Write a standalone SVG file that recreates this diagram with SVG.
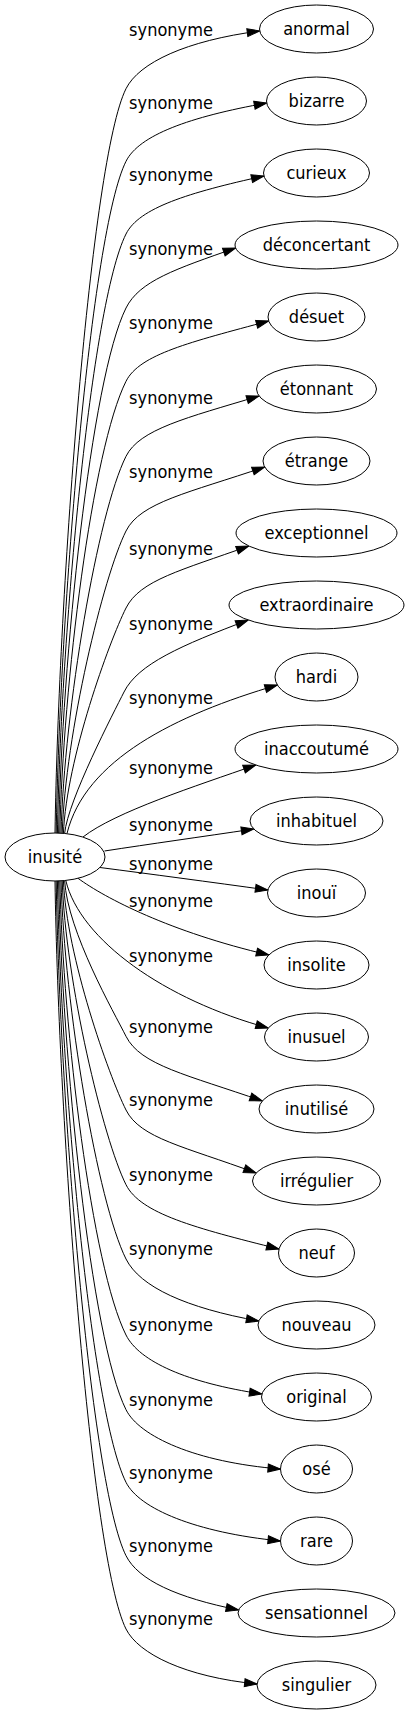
<svg xmlns="http://www.w3.org/2000/svg" width="409" height="1715" viewBox="0 0 409 1715">
<defs>
<style>
text{font-family:"DejaVu Sans Condensed","DejaVu Sans",sans-serif;font-stretch:condensed;font-size:18px;fill:#000;text-anchor:middle}
.node ellipse{fill:#fff;stroke:#000;stroke-width:1}
.edge path{fill:none;stroke:#000;stroke-width:1;marker-end:url(#arr)}
</style>
<marker id="arr" markerUnits="userSpaceOnUse" markerWidth="14" markerHeight="10" refX="12.5" refY="4" orient="auto" overflow="visible"><path d="M0,0 L12.5,4 L0,8 Z" fill="#000" stroke="#000" stroke-width="1"/></marker>
</defs>
<rect width="409" height="1715" fill="#fff"/>
<g id="edges">
<g class="edge" id="e0"><path d="M55,833.5 C58.6,587.7 91,158.7 126,88.7 C139,62.7 186.2,40.6 259.7,31"/><text x="171" y="36">synonyme</text></g>
<g class="edge" id="e1"><path d="M56.2,833.5 C59.7,611.7 91,231.3 126,161.3 C139.1,135.1 189.3,116.9 266.7,103"/><text x="171" y="108.6">synonyme</text></g>
<g class="edge" id="e2"><path d="M57.4,833.5 C60.8,635.7 91,304 126,234 C139,207.9 188.1,192.7 263.9,176"/><text x="171" y="181.3">synonyme</text></g>
<g class="edge" id="e3"><path d="M58.6,833.5 C62,660.1 91,378 126,308 C139.5,281 175.3,269.1 235.6,248"/><text x="171" y="255.3">synonyme</text></g>
<g class="edge" id="e4"><path d="M59.8,833.5 C63.1,684.3 92.1,449.1 126,381.3 C139.6,354.2 190.2,342.2 268.7,321"/><text x="171" y="328.6">synonyme</text></g>
<g class="edge" id="e5"><path d="M61,833.5 C64.3,709 97.7,512.9 126,456.3 C139.6,429.2 185.9,418 259.1,396"/><text x="171" y="403.6">synonyme</text></g>
<g class="edge" id="e6"><path d="M62.2,833.5 C65.4,733.7 103.3,576.4 126,531 C140.4,502.2 188.4,492.9 264.7,467"/><text x="171" y="478.3">synonyme</text></g>
<g class="edge" id="e7"><path d="M63.4,833.5 C66.5,759.1 109.1,641.8 126,608 C140,580.1 181.3,570.3 248.8,546"/><text x="171" y="555.3">synonyme</text></g>
<g class="edge" id="e8"><path d="M64.6,833.5 C68,800 114,712 124,692 C138,664 181,645.5 248.2,620"/><text x="171" y="630.3">synonyme</text></g>
<g class="edge" id="e9"><path d="M67,833.5 C85,760 175,715 277.4,685"/><text x="171" y="703.6">synonyme</text></g>
<g class="edge" id="e10"><path d="M83,837 C115,812 195.8,786 255.8,765"/><text x="171" y="773.6">synonyme</text></g>
<g class="edge" id="e11"><path d="M104.5,851 C150,844 200,837 253.8,829"/><text x="171" y="831">synonyme</text></g>
<g class="edge" id="e12"><path d="M100,867.5 C150,874 210,882 267.9,890"/><text x="171" y="870.3">synonyme</text></g>
<g class="edge" id="e13"><path d="M78,878.3 C105,898 170,932 268.8,955"/><text x="171" y="907">synonyme</text></g>
<g class="edge" id="e14"><path d="M65.8,880.5 C80,940 165,1000 268.3,1028"/><text x="171" y="962.3">synonyme</text></g>
<g class="edge" id="e15"><path d="M64.6,880.5 C67.7,931.9 114.3,1012.9 126,1036.3 C140.6,1065.4 187.3,1074.8 262.3,1101"/><text x="171" y="1032.6">synonyme</text></g>
<g class="edge" id="e16"><path d="M63.4,880.5 C66.5,956.2 108.8,1075.6 126,1110 C140.2,1138.4 184.5,1146.5 256.1,1173"/><text x="171" y="1106.3">synonyme</text></g>
<g class="edge" id="e17"><path d="M62.2,880.5 C65.4,980.9 103.2,1139.1 126,1184.7 C140.5,1213.6 194.9,1228 279,1249"/><text x="171" y="1181">synonyme</text></g>
<g class="edge" id="e18"><path d="M61,880.5 C64.3,1005.4 97.6,1202.2 126,1259 C140,1286.9 185.8,1307.9 258.8,1321"/><text x="171" y="1255.3">synonyme</text></g>
<g class="edge" id="e19"><path d="M59.8,880.5 C63.1,1030.5 91.9,1266.8 126,1335 C139.3,1361.6 187.2,1382.8 261.9,1394"/><text x="171" y="1331.3">synonyme</text></g>
<g class="edge" id="e20"><path d="M58.6,880.5 C62,1055.1 91,1339.7 126,1409.7 C139.4,1436.4 195.5,1462.2 280.5,1469"/><text x="171" y="1406">synonyme</text></g>
<g class="edge" id="e21"><path d="M57.4,880.5 C60.8,1079.1 91,1412.3 126,1482.3 C139.2,1508.7 195.5,1532.5 280.5,1541"/><text x="171" y="1478.6">synonyme</text></g>
<g class="edge" id="e22"><path d="M56.2,880.5 C59.7,1103.3 91,1485.7 126,1555.7 C138.2,1580.1 176.7,1597.6 238.6,1610"/><text x="171" y="1552">synonyme</text></g>
<g class="edge" id="e23"><path d="M55,880.5 C58.6,1127.5 91,1559 126,1629 C138.4,1653.8 185,1676.8 257.1,1684"/><text x="171" y="1625.3">synonyme</text></g>
</g>
<g class="node" id="n-inusite"><ellipse cx="55" cy="857" rx="50" ry="24"/><text x="55" y="863">inusité</text></g>
<g class="node" id="n0"><ellipse cx="316.5" cy="29" rx="57" ry="24"/><text x="316.5" y="35">anormal</text></g>
<g class="node" id="n1"><ellipse cx="316.5" cy="101" rx="50" ry="24"/><text x="316.5" y="107">bizarre</text></g>
<g class="node" id="n2"><ellipse cx="316.5" cy="173" rx="53" ry="24"/><text x="316.5" y="179">curieux</text></g>
<g class="node" id="n3"><ellipse cx="316.5" cy="245" rx="81.5" ry="24"/><text x="316.5" y="251">déconcertant</text></g>
<g class="node" id="n4"><ellipse cx="316.5" cy="317" rx="48.5" ry="24"/><text x="316.5" y="323">désuet</text></g>
<g class="node" id="n5"><ellipse cx="316.5" cy="389" rx="60" ry="24"/><text x="316.5" y="395">étonnant</text></g>
<g class="node" id="n6"><ellipse cx="316.5" cy="461" rx="53.5" ry="24"/><text x="316.5" y="467">étrange</text></g>
<g class="node" id="n7"><ellipse cx="316.5" cy="533" rx="80.5" ry="24"/><text x="316.5" y="539">exceptionnel</text></g>
<g class="node" id="n8"><ellipse cx="316.5" cy="605" rx="87.5" ry="24"/><text x="316.5" y="611">extraordinaire</text></g>
<g class="node" id="n9"><ellipse cx="316.5" cy="677" rx="41.5" ry="24"/><text x="316.5" y="683">hardi</text></g>
<g class="node" id="n10"><ellipse cx="316.5" cy="749" rx="81.5" ry="24"/><text x="316.5" y="755">inaccoutumé</text></g>
<g class="node" id="n11"><ellipse cx="316.5" cy="821" rx="66.5" ry="24"/><text x="316.5" y="827">inhabituel</text></g>
<g class="node" id="n12"><ellipse cx="316.5" cy="893" rx="49" ry="24"/><text x="316.5" y="899">inouï</text></g>
<g class="node" id="n13"><ellipse cx="316.5" cy="965" rx="52.5" ry="24"/><text x="316.5" y="971">insolite</text></g>
<g class="node" id="n14"><ellipse cx="316.5" cy="1037" rx="52" ry="24"/><text x="316.5" y="1043">inusuel</text></g>
<g class="node" id="n15"><ellipse cx="316.5" cy="1109" rx="57.5" ry="24"/><text x="316.5" y="1115">inutilisé</text></g>
<g class="node" id="n16"><ellipse cx="316.5" cy="1181" rx="64" ry="24"/><text x="316.5" y="1187">irrégulier</text></g>
<g class="node" id="n17"><ellipse cx="316.5" cy="1253" rx="38" ry="24"/><text x="316.5" y="1259">neuf</text></g>
<g class="node" id="n18"><ellipse cx="316.5" cy="1325" rx="58.5" ry="24"/><text x="316.5" y="1331">nouveau</text></g>
<g class="node" id="n19"><ellipse cx="316.5" cy="1397" rx="55" ry="24"/><text x="316.5" y="1403">original</text></g>
<g class="node" id="n20"><ellipse cx="316.5" cy="1469" rx="36" ry="24"/><text x="316.5" y="1475">osé</text></g>
<g class="node" id="n21"><ellipse cx="316.5" cy="1541" rx="36" ry="24"/><text x="316.5" y="1547">rare</text></g>
<g class="node" id="n22"><ellipse cx="316.5" cy="1613" rx="78.5" ry="24"/><text x="316.5" y="1619">sensationnel</text></g>
<g class="node" id="n23"><ellipse cx="316.5" cy="1685" rx="59.5" ry="24"/><text x="316.5" y="1691">singulier</text></g>
</svg>
